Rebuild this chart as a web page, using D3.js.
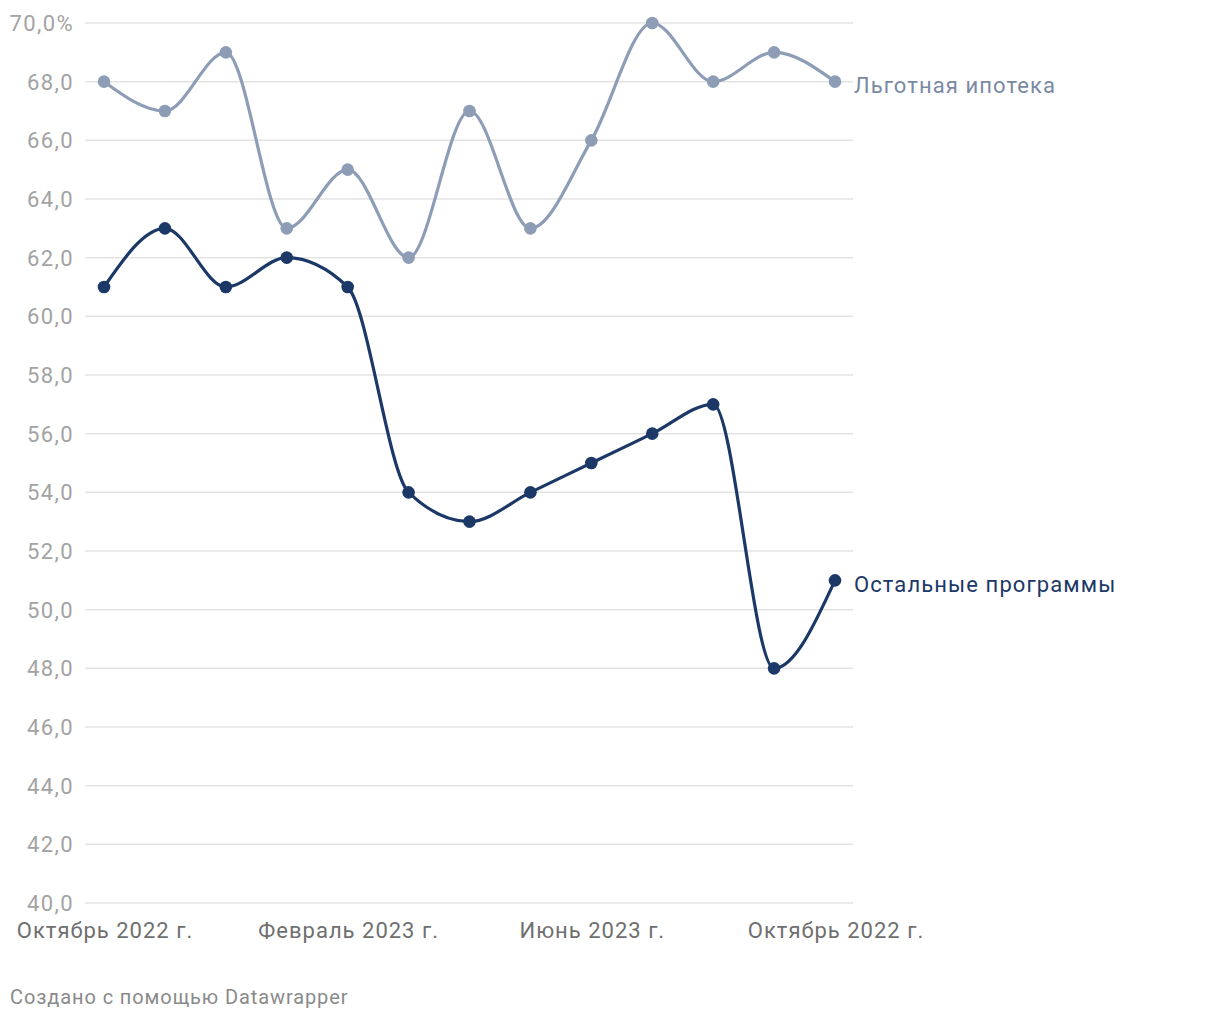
<!DOCTYPE html>
<html><head><meta charset="utf-8">
<script src="https://cdn.jsdelivr.net/npm/d3@7"></script>
<style>
body{margin:0;background:#fff;font-family:Roboto,"Noto Sans",sans-serif;}
</style></head>
<body><svg id="c" width="1220" height="1020"></svg>
<script>
const months = ["Окт 2022","Ноя 2022","Дек 2022","Янв 2023","Фев 2023","Мар 2023","Апр 2023","Май 2023","Июн 2023","Июл 2023","Авг 2023","Сен 2023","Окт 2023"];
const lgotnaya = [68,67,69,63,65,62,67,63,66,70,68,69,68];
const ostalnye = [61,63,61,62,61,54,53,54,55,56,57,48,51];
const yTicks = [40,42,44,46,48,50,52,54,56,58,60,62,64,66,68,70];
const xTickIdx = [0,4,8,12];
const xTickLabels = ["Октябрь 2022 г.","Февраль 2023 г.","Июнь 2023 г.","Октябрь 2022 г."];
const seriesNames = ["Льготная ипотека","Остальные программы"];

const svg = d3.select("#c").attr("font-family","Roboto, sans-serif");
const x = d3.scalePoint().domain(d3.range(months.length)).range([104,835]);
const y = d3.scaleLinear().domain([40,70]).range([903,23]);

const grid = svg.append("g");
grid.selectAll("line").data(yTicks).join("line")
  .attr("x1",85).attr("x2",853).attr("y1",d=>y(d)).attr("y2",d=>y(d))
  .attr("stroke","#e3e3e3").attr("stroke-width",1.5);
grid.selectAll("text").data(yTicks).join("text")
  .attr("x",74).attr("y",d=>y(d)).attr("dy","0.36em").attr("text-anchor","end")
  .attr("fill","#a3a3a3").attr("font-size",22).attr("letter-spacing","1.4px")
  .text(d=>d3.format(".1f")(d).replace(".",",")+(d===70?"%":""));

svg.append("g").selectAll("text").data(xTickIdx).join("text")
  .attr("x",(d)=>x(d)+1).attr("y",938).attr("text-anchor","middle")
  .attr("fill","#6f6f6f").attr("font-size",22).attr("letter-spacing","1px")
  .text((d,i)=>xTickLabels[i]);

const series = [
  {name:seriesNames[0], vals:lgotnaya, color:"#8e9db6", label:"#7a89a2"},
  {name:seriesNames[1], vals:ostalnye, color:"#1b3867", label:"#1b3867"}
];
const line = d3.line().x((d,i)=>x(i)).y(d=>y(d)).curve(d3.curveMonotoneX);
series.forEach(s=>{
  const g = svg.append("g");
  g.append("path").attr("d",line(s.vals)).attr("fill","none")
    .attr("stroke",s.color).attr("stroke-width",3.2);
  g.selectAll("circle").data(s.vals).join("circle")
    .attr("cx",(d,i)=>x(i)).attr("cy",d=>y(d)).attr("r",6.3).attr("fill",s.color);
  const last = s.vals.length-1;
  g.append("text").attr("x",x(last)+19).attr("y",y(s.vals[last])+4).attr("dy","0.35em")
    .attr("fill",s.label).attr("font-size",22).attr("letter-spacing","1.1px").text(s.name);
});

svg.append("text").attr("x",10).attr("y",1004).attr("fill","#8a8a8a")
  .attr("font-size",20).attr("letter-spacing","0.9px").text("Создано с помощью Datawrapper");
</script></body></html>
